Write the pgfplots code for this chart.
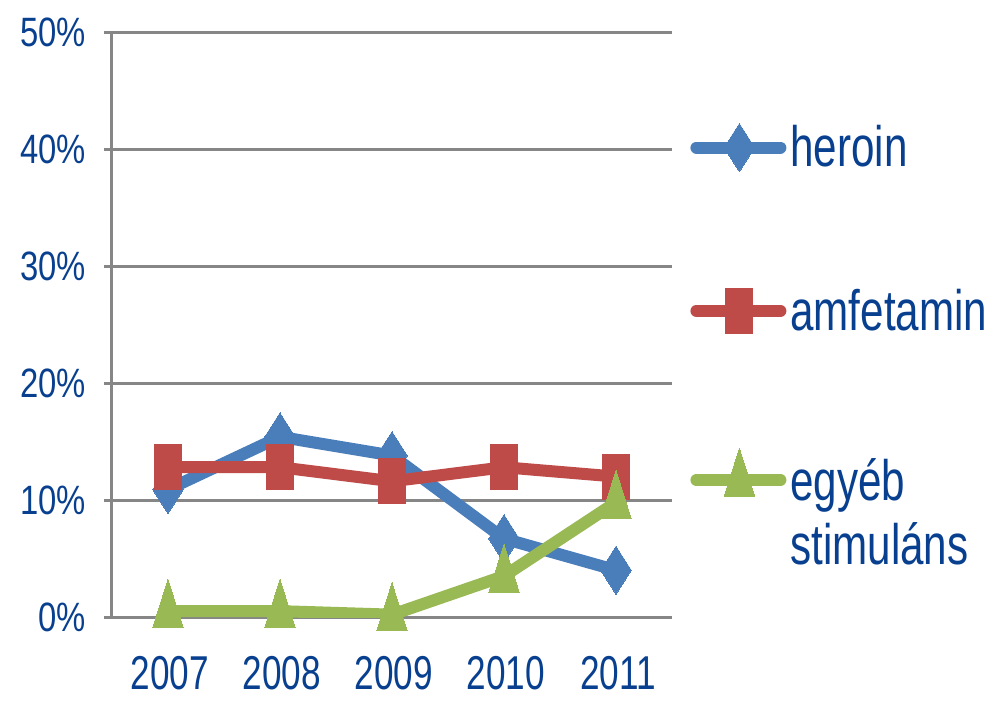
\documentclass[border=0pt]{standalone}
\usepackage{fontspec}
\setmainfont[FakeStretch=0.74]{Liberation Sans}
\newfontfamily\yfont[FakeStretch=0.8]{Liberation Sans}
\usepackage{pgfplots}
\pgfplotsset{compat=1.18}
\definecolor{txt}{HTML}{08408F}
\definecolor{gridc}{HTML}{868686}
\definecolor{cblue}{HTML}{4A7EBB}
\definecolor{cred}{HTML}{BE4B48}
\definecolor{cgreen}{HTML}{98B954}
\begin{document}
\begin{tikzpicture}
\begin{axis}[
  scale only axis, width=280pt, height=292.5pt,
  xmin=-0.5, xmax=4.5, ymin=0, ymax=50,
  axis x line*=bottom, axis y line*=left,
  axis line style={gridc, line width=1.5pt, -},
  xtick=\empty,
  minor xtick={-0.5,0.5,1.5,2.5,3.5,4.5},
  minor tick length=6.5pt,
  extra x ticks={0,1,2,3,4},
  extra x tick labels={2007,2008,2009,2010,2011},
  extra x tick style={major tick length=0pt, grid=none},
  ytick={0,10,20,30,40,50},
  yticklabels={0\%,10\%,20\%,30\%,40\%,50\%},
  major tick length=4pt,
  tick align=outside,
  tick style={gridc, line width=1.5pt},
  ymajorgrids, major grid style={gridc, line width=1.5pt},
  /pgf/number format/assume math mode=true,
  xticklabel style={font=\fontsize{23.75}{26}\selectfont, text=txt, yshift=-16pt, xshift=1pt},
  yticklabel style={font=\yfont\fontsize{20.5}{22}\selectfont, text=txt, xshift=-5.5pt},
  legend style={at={(1,1)}, anchor=north west, xshift=6pt, yshift=-42.5pt,
    draw=none, fill=none, font=\fontsize{28.5}{32}\selectfont, text=txt,
    row sep=55.5pt},
  legend cell align=left,
  legend image code/.code={%
    \path (0pt,0pt) -- (42pt,0pt);
    \draw[#1, mark repeat=2, mark phase=2] plot coordinates {(3pt,0pt) (21.5pt,0pt) (40pt,0pt)};},
  every axis plot/.append style={line width=6pt, line cap=round, line join=round},
]
\addplot[cblue, mark=diamond*, mark size=12pt, mark options={xscale=0.85, line width=0pt}]
  coordinates {(0,10.9) (1,15.4) (2,13.8) (3,6.7) (4,4.0)};
\addlegendentry{heroin}
\addplot[cred, mark=square*, mark size=11.25pt, mark options={xscale=0.6, line width=0pt, rounded corners=1pt}]
  coordinates {(0,12.8) (1,12.8) (2,11.6) (3,12.8) (4,12.0)};
\addlegendentry{amfetamin}
\addplot[cgreen, mark=triangle*, mark size=16pt, mark options={xscale=0.55, line width=0pt}]
  coordinates {(0,0.5) (1,0.5) (2,0.2) (3,3.5) (4,9.8)};
\addlegendentry{\begin{tabular}[t]{@{}l@{}}egyéb\\stimuláns\end{tabular}}
\end{axis}
\pgfresetboundingbox
\path (-56pt,-42.5pt) rectangle (444pt,308.5pt);
\end{tikzpicture}
\end{document}
